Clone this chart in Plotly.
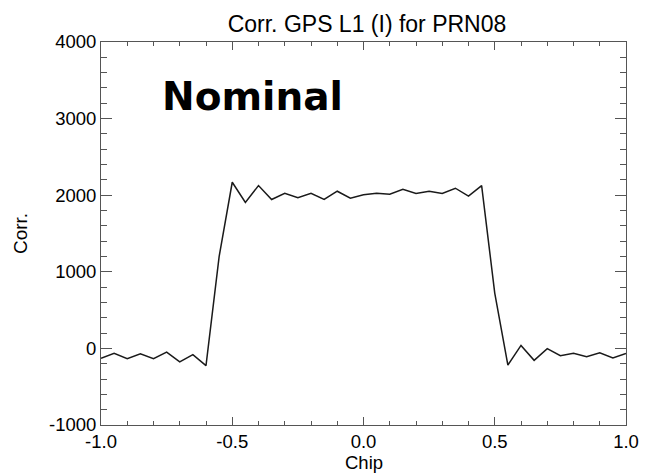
import plotly.graph_objects as go

chip = [-1.00, -0.95, -0.90, -0.85, -0.80, -0.75, -0.70, -0.65, -0.60, -0.55,
        -0.50, -0.45, -0.40, -0.35, -0.30, -0.25, -0.20, -0.15, -0.10, -0.05,
        0.00, 0.05, 0.10, 0.15, 0.20, 0.25, 0.30, 0.35, 0.40, 0.45,
        0.50, 0.55, 0.60, 0.65, 0.70, 0.75, 0.80, 0.85, 0.90, 0.95, 1.00]
corr = [-130, -65, -134, -69, -134, -48, -177, -82, -225, 1199,
        2169, 1905, 2126, 1944, 2026, 1966, 2026, 1944, 2052, 1962,
        2005, 2026, 2013, 2078, 2022, 2052, 2022, 2091, 1987, 2126,
        723, -217, 39, -156, -4, -95, -65, -108, -56, -126, -65]

x_ticks = [-1.0, -0.5, 0.0, 0.5, 1.0]
x_labels = ["-1.0", "-0.5", "0.0", "0.5", "1.0"]
y_ticks = [-1000, 0, 1000, 2000, 3000, 4000]
y_labels = ["-1000", "0", "1000", "2000", "3000", "4000"]

title_text = "Corr. GPS L1 (I) for PRN08"
x_title = "Chip"
y_title = "Corr."
label_text = "Nominal"

font_main = "Liberation Sans, Arial, Helvetica, sans-serif"
axis_color = "#555555"

# the page body adds an 8px margin, so the figure is 8px smaller and shifted
W, H = 643, 466

fig = go.Figure()
fig.add_trace(go.Scatter(x=chip, y=corr, mode="lines",
                         line=dict(color="#1a1a1a", width=1.5),
                         showlegend=False, hoverinfo="skip"))

fig.update_layout(
    width=W, height=H,
    margin=dict(l=89, r=14, t=34, b=49),
    paper_bgcolor="white", plot_bgcolor="white",
    font=dict(family=font_main, size=18, color="black"),
    title=dict(text=title_text, x=359 / W, xanchor="center",
               y=1 - 16 / H, yanchor="middle",
               font=dict(family=font_main, size=23, color="black")),
    annotations=[
        dict(text=label_text, xref="paper", yref="paper",
             x=(253 - 97) / 540, y=(425 - 96) / 383,
             xanchor="center", yanchor="middle", showarrow=False,
             font=dict(family="DejaVu Sans", size=39, color="black",
                       weight="bold")),
        dict(text=x_title, xref="paper", yref="paper",
             x=0.5, y=-(462 - 425) / 383,
             xanchor="center", yanchor="middle", showarrow=False,
             font=dict(family=font_main, size=18.5, color="black")),
    ],
)

fig.update_xaxes(
    range=[-1, 1], tickvals=x_ticks, ticktext=x_labels,
    showgrid=False, zeroline=False,
    showline=True, linecolor=axis_color, linewidth=1, mirror="allticks",
    ticks="inside", ticklen=8, tickcolor=axis_color, tickwidth=1,
    minor=dict(dtick=0.1, ticks="inside", ticklen=4, tickcolor=axis_color,
               showgrid=False),
    tickfont=dict(size=18.5),
)
fig.update_yaxes(
    range=[-1000, 4000], tickvals=y_ticks, ticktext=y_labels,
    showgrid=False, zeroline=False,
    showline=True, linecolor=axis_color, linewidth=1, mirror="allticks",
    ticks="inside", ticklen=11, tickcolor=axis_color, tickwidth=1,
    minor=dict(dtick=200, ticks="inside", ticklen=6, tickcolor=axis_color,
               showgrid=False),
    tickfont=dict(size=18.5),
    title=dict(text=y_title, font=dict(size=19), standoff=16),
)

fig.write_html("out.html")
